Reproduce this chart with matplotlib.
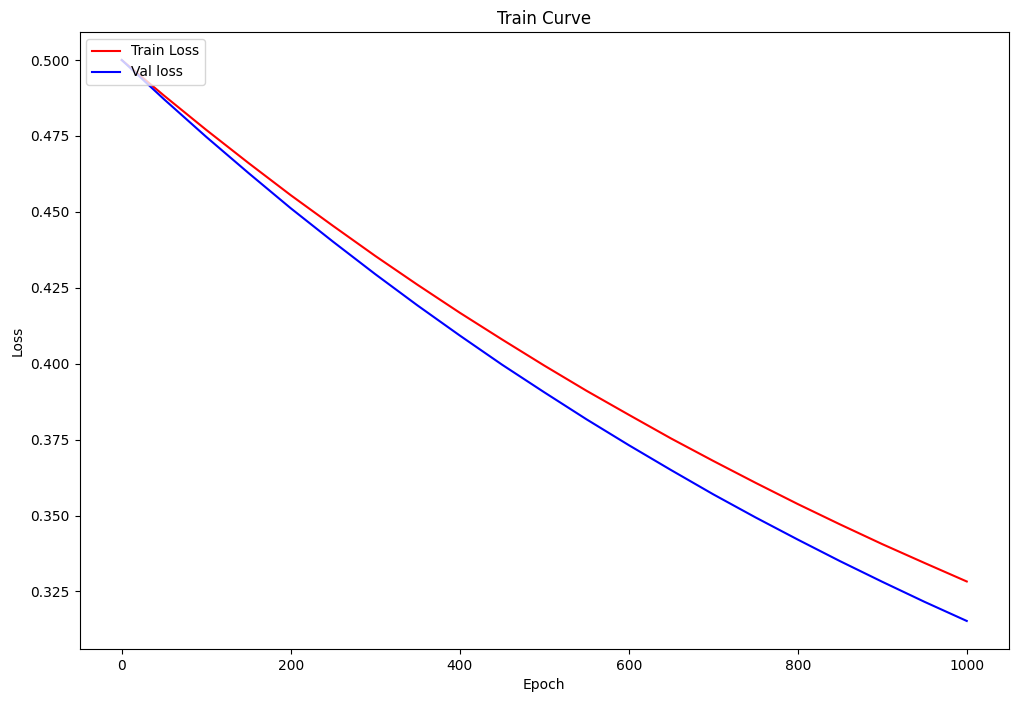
import matplotlib
matplotlib.use("Agg")
import matplotlib.pyplot as plt

epochs = [0, 50, 100, 150, 200, 250, 300, 350, 400, 450, 500,
          550, 600, 650, 700, 750, 800, 850, 900, 950, 1000]
train_loss = [0.5000, 0.4883, 0.4770, 0.4661, 0.4555, 0.4454, 0.4355, 0.4260,
              0.4168, 0.4080, 0.3994, 0.3911, 0.3832, 0.3754, 0.3680, 0.3608,
              0.3538, 0.3471, 0.3406, 0.3344, 0.3283]
val_loss = [0.5000, 0.4871, 0.4747, 0.4628, 0.4512, 0.4402, 0.4295, 0.4192,
            0.4093, 0.3997, 0.3906, 0.3817, 0.3732, 0.3650, 0.3570, 0.3494,
            0.3421, 0.3350, 0.3282, 0.3216, 0.3153]

W, H = 1018, 701
fig = plt.figure(figsize=(W / 100, H / 100), dpi=100)
ax = fig.add_axes([79.5 / W, (H - 649) / H, 929.5 / W, 617 / H])
ax.plot(epochs, train_loss, color="red", label="Train Loss")
ax.plot(epochs, val_loss, color="blue", label="Val loss")
ax.set_title("Train Curve")
ax.set_xlabel("Epoch")
ax.set_ylabel("Loss")
ax.legend(loc="upper left")
fig.savefig("out.png", dpi=100)
